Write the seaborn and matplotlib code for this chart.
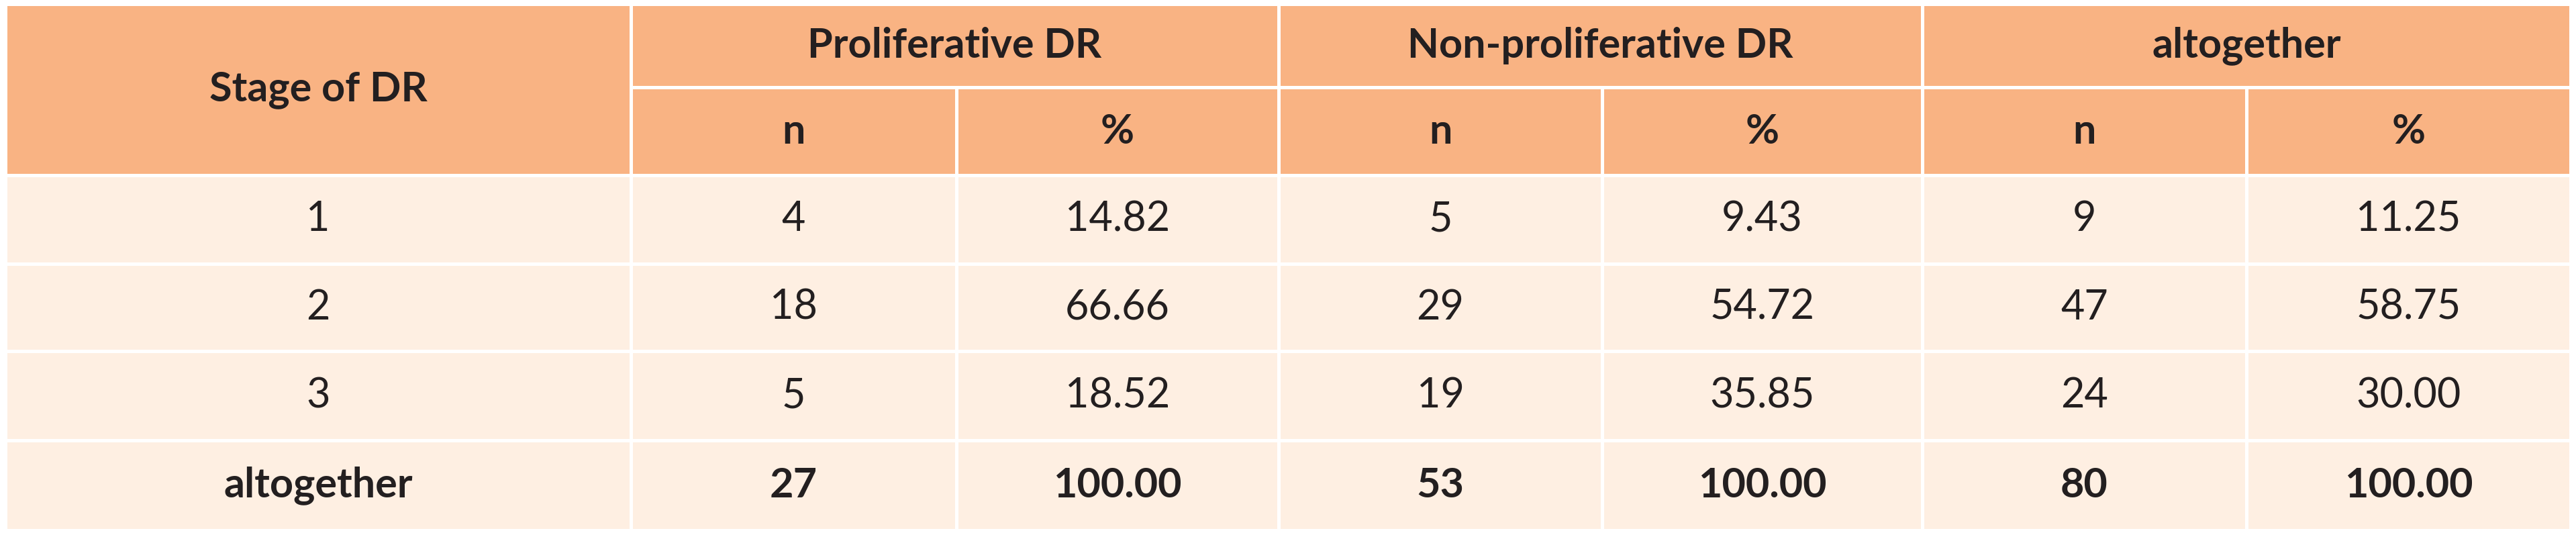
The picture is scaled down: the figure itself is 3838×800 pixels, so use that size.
import matplotlib
matplotlib.use("Agg")
import matplotlib.pyplot as plt
import seaborn as sns
from matplotlib.patches import Rectangle

sns.set_theme(style="white")
plt.rcParams['font.family'] = ['Lato', 'DejaVu Sans']

groups = ["Proliferative DR", "Non-proliferative DR", "altogether"]
subcols = ["n", "%"]
stages = ["1", "2", "3", "altogether"]
prolif_n = ["4", "18", "5", "27"]
prolif_pct = ["14.82", "66.66", "18.52", "100.00"]
nonprolif_n = ["5", "29", "19", "53"]
nonprolif_pct = ["9.43", "54.72", "35.85", "100.00"]
total_n = ["9", "47", "24", "80"]
total_pct = ["11.25", "58.75", "30.00", "100.00"]

W, H = 3838, 800
fig = plt.figure(figsize=(W/100, H/100), dpi=100)
ax = fig.add_axes([0, 0, 1, 1])
ax.set_xlim(0, W); ax.set_ylim(H, 0); ax.axis("off")

HEAD = "#F9B383"; BODY = "#FEEFE2"; TXT = "#231F20"
g = 5
xs = [8, 940, 1425, 1905, 2387, 2864, 3347, 3830]
ys = [6, 130, 261, 393, 523, 656, 790]
fs = 44

def cell(x0, x1, y0, y1, color, text, bold=False):
    ax.add_patch(Rectangle((x0 + g/2, y0 + g/2), x1 - x0 - g, y1 - y0 - g, color=color, lw=0))
    ax.text((x0 + x1)/2, (y0 + y1)/2, text, ha="center", va="center", fontsize=fs,
            color=TXT, fontweight="bold" if bold else "normal")

cell(xs[0], xs[1], ys[0], ys[2], HEAD, "Stage of DR", True)
for i, gname in enumerate(groups):
    cell(xs[1+2*i], xs[3+2*i], ys[0], ys[1], HEAD, gname, True)
    for j, s in enumerate(subcols):
        cell(xs[1+2*i+j], xs[2+2*i+j], ys[1], ys[2], HEAD, s, True)

cols = [prolif_n, prolif_pct, nonprolif_n, nonprolif_pct, total_n, total_pct]
for r, st in enumerate(stages):
    bold = r == len(stages) - 1
    cell(xs[0], xs[1], ys[2+r], ys[3+r], BODY, st, bold)
    for c, col in enumerate(cols):
        cell(xs[1+c], xs[2+c], ys[2+r], ys[3+r], BODY, col[r], bold)

fig.savefig("out.png", dpi=100, facecolor="white")
